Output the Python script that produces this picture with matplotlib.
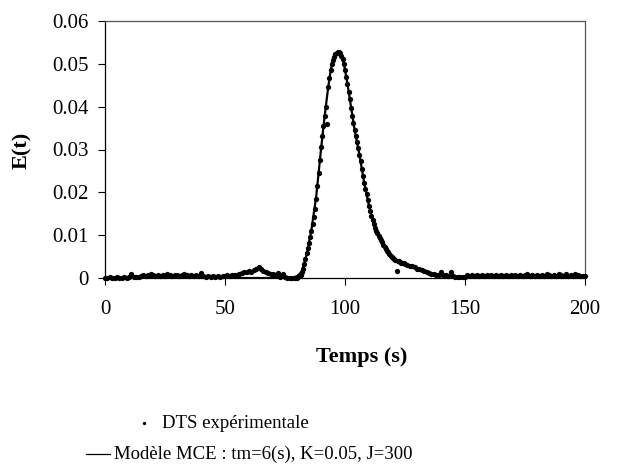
import numpy as np
import matplotlib
matplotlib.use("Agg")
import matplotlib.pyplot as plt
from matplotlib.lines import Line2D

plt.rcParams['font.family'] = ['Liberation Serif', 'DejaVu Serif']

# ---------------- data ----------------
# experimental RTD, baseline part 0..79 s (1 s step)
exp_t_a = np.arange(0, 80, 1.0)
exp_E_a = [0.0001, 0.0001, 0.0002, 0.0001, 0.0001, 0.0002, 0.0001, 0.0001, 0.0002, 0.0001,
           0.0002, 0.0010, 0.0002, 0.0003, 0.0002, 0.0005, 0.0006, 0.0005, 0.0006, 0.0010,
           0.0006, 0.0005, 0.0006, 0.0005, 0.0006, 0.0005, 0.0010, 0.0006, 0.0005, 0.0006,
           0.0006, 0.0005, 0.0006, 0.0010, 0.0006, 0.0005, 0.0006, 0.0005, 0.0006, 0.0005,
           0.0012, 0.0004, 0.0003, 0.0005, 0.0003, 0.0004, 0.0002, 0.0004, 0.0003, 0.0004,
           0.0005, 0.0006, 0.0005, 0.0007, 0.0006, 0.0008, 0.0010, 0.0012, 0.0015, 0.0013,
           0.0016, 0.0014, 0.0018, 0.0022, 0.0025, 0.0020, 0.0017, 0.0015, 0.0012, 0.0010,
           0.0009, 0.0008, 0.0012, 0.0003, 0.0010, 0.0002, 0.0001, 0.0001, 0.0000, 0.0001]

# peak part 80..125 s (0.5 s step)
exp_t_b = np.arange(80, 125.01, 0.5)
exp_E_b = [0.0001, 0.0002, 0.0004, 0.0008, 0.0013, 0.0021, 0.0032, 0.0045, 0.0058, 0.0070,
           0.0082, 0.0096, 0.0110, 0.0126, 0.0142, 0.0162, 0.0185, 0.0214, 0.0245, 0.0276,
           0.0305, 0.0332, 0.0355, 0.0378, 0.0400, 0.0360, 0.0445, 0.0466, 0.0485, 0.0499,
           0.0510, 0.0517, 0.0522, 0.0526, 0.0528, 0.0527, 0.0525, 0.0519, 0.0512, 0.0500,
           0.0485, 0.0469, 0.0452, 0.0435, 0.0418, 0.0398, 0.0378, 0.0361, 0.0345, 0.0331,
           0.0318, 0.0303, 0.0288, 0.0272, 0.0255, 0.0238, 0.0222, 0.0208, 0.0195, 0.0181,
           0.0168, 0.0156, 0.0145, 0.0135, 0.0125, 0.0117, 0.0110, 0.0104, 0.0098, 0.0093,
           0.0088, 0.0083, 0.0078, 0.0073, 0.0068, 0.0064, 0.0060, 0.0056, 0.0052, 0.0049,
           0.0046, 0.0044, 0.0043, 0.0016, 0.0040, 0.0039, 0.0038, 0.0036, 0.0035, 0.0034,
           0.0033]

# tail part 126..200 s (1 s step)
exp_t_c = np.arange(126, 201, 1.0)
exp_E_c = [0.0031, 0.0029, 0.0027, 0.0025, 0.0022, 0.0020, 0.0018, 0.0016, 0.0013, 0.0011,
           0.0010, 0.0009, 0.0008, 0.0007, 0.0015, 0.0006, 0.0006, 0.0005, 0.0014, 0.0005,
           0.0003, 0.0002, 0.0003, 0.0002, 0.0003, 0.0006, 0.0005, 0.0006, 0.0005, 0.0006,
           0.0005, 0.0006, 0.0005, 0.0006, 0.0005, 0.0006, 0.0005, 0.0006, 0.0005, 0.0006,
           0.0005, 0.0006, 0.0005, 0.0006, 0.0005, 0.0006, 0.0005, 0.0006, 0.0005, 0.0006,
           0.0009, 0.0005, 0.0006, 0.0005, 0.0006, 0.0005, 0.0006, 0.0005, 0.0009, 0.0006,
           0.0005, 0.0006, 0.0005, 0.0009, 0.0006, 0.0005, 0.0009, 0.0005, 0.0006, 0.0005,
           0.0009, 0.0006, 0.0005, 0.0004, 0.0005]

# model curve (MCE)
model_t = [0, 75, 78, 80, 82, 84, 86, 88, 90, 91, 92, 93, 94, 95, 96, 97, 98, 99, 100,
           101, 102, 104, 106, 108, 110, 112, 114, 116, 118, 120, 123, 126, 130, 135,
           140, 150, 160, 200]
model_E = [0.0, 0.0, 0.0001, 0.0004, 0.0015, 0.0055, 0.0112, 0.0190, 0.0300, 0.0352,
           0.0400, 0.0445, 0.0484, 0.0510, 0.0523, 0.0528, 0.0524, 0.0511, 0.0487,
           0.0454, 0.0418, 0.0346, 0.0288, 0.0222, 0.0168, 0.0126, 0.0098, 0.0078,
           0.0060, 0.0047, 0.0037, 0.0030, 0.0021, 0.0011, 0.0006, 0.0002, 0.0001, 0.0]

x_ticks = [0, 50, 100, 150, 200]
y_ticks = [0, 0.01, 0.02, 0.03, 0.04, 0.05, 0.06]
y_ticklabels = ['0', '0.01', '0.02', '0.03', '0.04', '0.05', '0.06']
label_exp = "DTS expérimentale"
label_model = "Modèle MCE : tm=6(s), K=0.05, J=300"

# ---------------- figure ----------------
W, H = 640, 474
fig = plt.figure(figsize=(W / 100, H / 100), dpi=100)
ax = fig.add_axes([105 / W, 1 - 278 / H, 480 / W, 257 / H])

exp_t = np.concatenate([exp_t_a, exp_t_b, exp_t_c])
exp_E = np.concatenate([exp_E_a, exp_E_b, exp_E_c])

ax.plot(model_t, model_E, color='black', lw=1.6, zorder=2)
ax.plot(exp_t, exp_E, linestyle='none', marker='o', ms=3.8, mew=0,
        color='black', zorder=3, clip_on=False)

ax.set_xlim(0, 200)
ax.set_ylim(0, 0.06)
ax.set_xticks(x_ticks)
ax.set_xticklabels([str(v) for v in x_ticks])
ax.set_yticks(y_ticks)
ax.set_yticklabels(y_ticklabels)
ax.tick_params(direction='out', length=5, width=0.8, labelsize=15, color='black')
ax.tick_params(axis='y', pad=7)
ax.tick_params(axis='x', pad=11)
for s in ['left', 'bottom']:
    ax.spines[s].set_color('black')
    ax.spines[s].set_linewidth(0.9)
for s in ['top', 'right']:
    ax.spines[s].set_color('#555555')
    ax.spines[s].set_linewidth(0.9)

fig.text(22 / W, 1 - 150 / H, "E(t)", rotation=90, ha='center', va='center',
         fontsize=16, fontweight='bold')
fig.text(362 / W, 1 - 357 / H, "Temps (s)", ha='center', va='center',
         fontsize=16, fontweight='bold')

# legend (drawn below the plot, like the original)
fig.add_artist(Line2D([144 / W], [1 - 423 / H], marker='o', ms=2.4, mew=0,
                      color='black', linestyle='none', transform=fig.transFigure))
fig.text(162 / W, 1 - 423 / H, label_exp, ha='left', va='center', fontsize=13.5)
fig.add_artist(Line2D([86 / W, 110 / W], [1 - 454 / H, 1 - 454 / H], lw=0.9,
                      color='black', transform=fig.transFigure))
fig.text(114 / W, 1 - 454 / H, label_model, ha='left', va='center', fontsize=13.5)

fig.savefig("out.png", dpi=100)
